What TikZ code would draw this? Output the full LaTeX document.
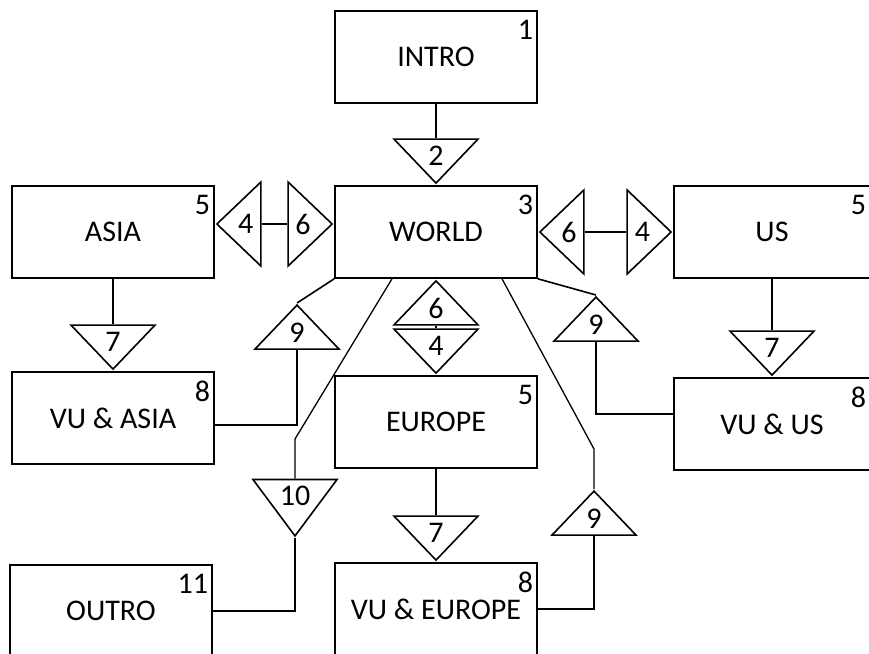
\documentclass[tikz,border=0pt]{standalone}
\usepackage{fontspec}
\setmainfont{Carlito}
\usetikzlibrary{shapes.geometric}

\begin{document}
\begin{tikzpicture}[x=1pt, y=-1pt, line width=1.6pt,
    box/.style={draw, minimum width=202pt, minimum height=92pt, inner sep=0pt, font=\fontsize{30}{36}\selectfont},
    num/.style={label={[anchor=north east, inner xsep=4pt, inner ysep=9pt, font=\fontsize{30}{36}\selectfont]north east:#1}},
    tri/.style={draw, isosceles triangle, isosceles triangle stretches, inner sep=0pt, anchor=apex, minimum width=84pt, minimum height=44pt, font=\fontsize{30}{36}\selectfont},
    tridown/.style={tri, shape border rotate=270},
    triup/.style={tri, shape border rotate=90},
    trileft/.style={tri, shape border rotate=180},
    triright/.style={tri, shape border rotate=0},
    slant/.style={line width=1.3pt}]
    \useasboundingbox (0, 0) rectangle (869, 653);

    % Boxes
    \node[box, num=1] (intro) at (436, 57) {INTRO};
    \node[box, num=3] (world) at (436, 232) {WORLD};
    \node[box, num=5] (asia) at (113, 232) {ASIA};
    \node[box, num=5, minimum width=196pt] (us) at (772, 232) {US};
    \node[box, num=8] (vuasia) at (113, 418) {VU \& ASIA};
    \node[box, num=5] (europe) at (436, 422) {EUROPE};
    \node[box, num=8, minimum width=196pt] (vuus) at (772, 424) {VU \& US};
    \node[box, num=11] (outro) at (111, 611) {OUTRO};
    \node[box, num=8] (vueurope) at (436, 609) {VU \& EUROPE};

    % Triangles
    \node[tridown] (t2) at (world.north) {2};
    \node[trileft] (t4l) at ([yshift=8pt]asia.east) {4};
    \node[triright] (t6l) at ([yshift=8pt]world.west) {6};
    \node[trileft] (t6r) at (world.east) {6};
    \node[triright] (t4r) at (us.west) {4};
    \node[triup] (t6m) at (world.south) {6};
    \node[tridown] (t4m) at (europe.north) {4};
    \node[tridown] (t7a) at (vuasia.north) {7};
    \node[tridown] (t7u) at (vuus.north) {7};
    \node[tridown] (t7e) at (vueurope.north) {7};
    \node[triup] (t9a) at (297, 303) {9};
    \node[triup] (t9u) at (596, 295) {9};
    \node[tridown] (t10) at (295, 538) {10};
    \node[triup] (t9e) at (594, 489) {9};

    \coordinate (bendl) at (295, 439);
    \coordinate (bendr) at (594, 449);

    % Connectors
    \draw (intro.south) -- (t2.lower side);
    \draw (t4l.lower side) -- (t6l.lower side);
    \draw (t6r.lower side) -- (t4r.lower side);
    \draw (t6m.lower side) -- (t4m.lower side);
    \draw (asia.south) -- (t7a.lower side);
    \draw (us.south) -- (t7u.lower side);
    \draw (europe.south) -- (t7e.lower side);
    \draw (world.south west) -- (t9a.apex);
    \draw (t9a.lower side) |- ([yshift=-7pt]vuasia.east);
    \draw (world.south east) -- (t9u.apex);
    \draw (t9u.lower side) |- ([yshift=10pt]vuus.west);
    \draw[slant] ([xshift=-44pt]world.south) -- (bendl) -- (t10.lower side);
    \draw (t10.apex) |- (outro.east);
    \draw[slant] ([xshift=66pt]world.south) -- (bendr) -- (t9e.apex);
    \draw (t9e.lower side) |- (vueurope.east);
\end{tikzpicture}
\end{document}
